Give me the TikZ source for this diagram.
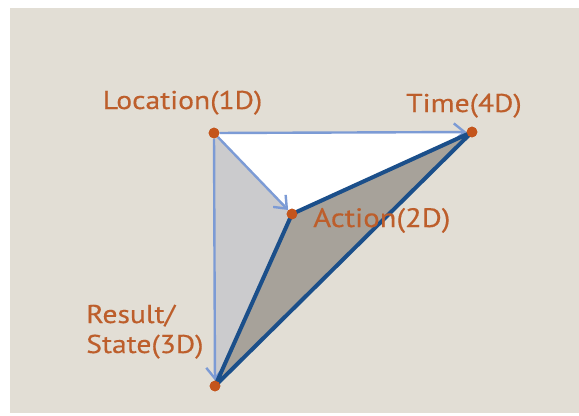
\documentclass[tikz,border=0pt]{standalone}
\usepackage{fontspec}
\setmainfont{PT Sans}[FakeStretch=1.15,FakeBold=0.4]
\usetikzlibrary{arrows.meta}
\definecolor{bgc}{HTML}{E2DED5}
\definecolor{txt}{HTML}{BD5E2B}
\definecolor{dotc}{HTML}{C4551C}
\definecolor{dblue}{HTML}{1B4F8A}
\definecolor{lblue}{HTML}{7C9BD5}
\definecolor{lgrey}{HTML}{CBCBCD}
\definecolor{dgrey}{HTML}{A7A29A}
\tikzset{
  vdot/.style={circle,fill=dotc,inner sep=0pt,minimum size=8pt},
  lbl/.style={text=txt,inner sep=0pt,font=\fontsize{19.3}{22.5}\selectfont},
  arr/.style={draw=lblue,line width=1.8pt,-{Straight Barb[length=8pt,width=13pt,line width=1.8pt]}},
  edge3/.style={draw=dblue,line width=3pt,line join=round}
}
\begin{document}
\begin{tikzpicture}[x=0.75pt,y=-0.75pt]
\useasboundingbox (0,0) rectangle (579,415);
\fill[white] (0,0) rectangle (579,415);
\fill[bgc] (10,8) rectangle (579,413);
\coordinate (pL) at (214,133);
\coordinate (pT) at (472,132);
\coordinate (pA) at (292,214);
\coordinate (pR) at (215,386);
\fill[lgrey] (pL) -- (pA) -- (pR) -- cycle;
\fill[white] (pL) -- (pT) -- (pA) -- cycle;
\fill[dgrey] (pA) -- (pT) -- (pR) -- cycle;
\node[vdot] (L) at (pL) {};
\node[vdot] (T) at (pT) {};
\node[vdot] (A) at (pA) {};
\node[vdot] (R) at (pR) {};
\draw[arr] (L) -- (T);
\draw[arr] (L) -- (A);
\draw[arr] (L) -- (R);
\draw[edge3] (A.center) -- (T.center) -- (R.center) -- cycle;
\node[vdot] at (pL) {};
\node[vdot] at (pT) {};
\node[vdot] at (pA) {};
\node[vdot] at (pR) {};
\node[lbl,anchor=base] (tL) at (182.5,109) {Location(1D)};
\node[lbl,anchor=base] (tT) at (464,112) {Time(4D)};
\node[lbl,anchor=base west,font=\fontsize{20}{22.5}\selectfont] (tA) at (313,227) {Action(2D)};
\node[lbl,anchor=base west,align=left] (tR) at (86,353) {Result/\\State(3D)};
\end{tikzpicture}
\end{document}
